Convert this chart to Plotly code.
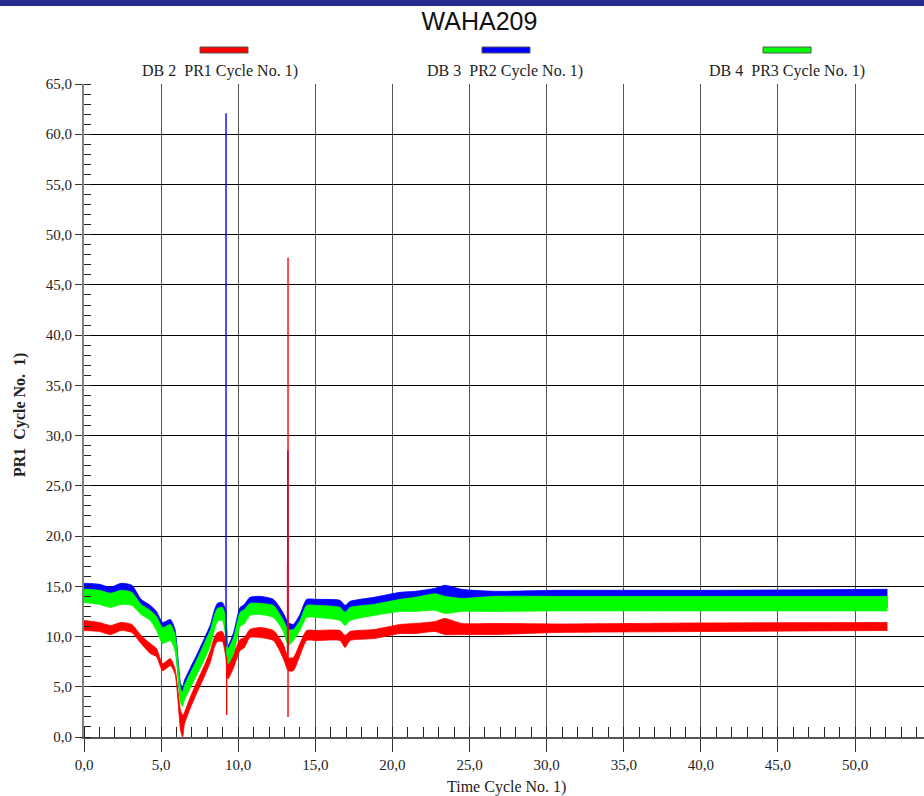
import plotly.graph_objects as go

# ---------------- data ----------------
SERIES_NAMES = ["DB 2\u00a0\u00a0PR1 Cycle No. 1)", "DB 3\u00a0\u00a0PR2 Cycle No. 1)", "DB 4\u00a0\u00a0PR3 Cycle No. 1)"]
TITLE = "WAHA209"
X_TITLE = "Time Cycle No. 1)"
Y_TITLE = "PR1\u00a0\u00a0Cycle No.\u00a0\u00a01)"

# time points at which the envelopes of the noisy bands were read
TIME = [0, 1.0, 1.73, 2.4, 3.1, 3.7, 4.3, 4.7, 5.1, 5.6, 5.9, 6.27, 6.4, 6.5, 6.9, 7.35, 7.8, 8.2, 8.45, 8.65, 8.97,
        9.19, 9.34, 9.7, 10.12, 10.4, 10.76, 11.4, 12.28, 12.9, 13.25, 13.57, 14.0, 14.44, 15.1,
        16.6, 16.93, 17.25, 18.8, 20.5, 21.47, 22.77, 23.4, 24.5, 26.7, 30.6, 40.0, 52.1]

# PR1 (red) band: upper / lower envelope
PR1_HI = [11.6, 11.4, 11.1, 11.4, 11.2, 10.1, 9.3, 8.8, 7.3, 7.8, 6.8, 2.6, 2.2, 2.4, 4.0, 5.6, 7.1, 8.6, 9.9, 10.4, 10.5,
          9.5, 7.3, 8.3, 9.7, 9.9, 10.7, 10.9, 10.6, 9.3, 7.9, 7.9, 9.3, 10.6, 10.6,
          10.6, 10.1, 10.5, 10.7, 11.2, 11.3, 11.5, 11.8, 11.3, 11.3, 11.25, 11.35, 11.4]
PR1_LO = [10.6, 10.5, 10.2, 10.6, 10.4, 9.3, 8.3, 8.0, 6.6, 7.1, 6.3, 0.6, 0.0, 1.2, 2.9, 4.5, 6.0, 7.5, 8.9, 9.5, 9.5,
          8.0, 5.8, 6.9, 8.6, 8.9, 9.9, 9.9, 9.6, 7.9, 6.6, 6.6, 8.1, 9.6, 9.6,
          9.6, 8.9, 9.6, 9.8, 10.3, 10.3, 10.5, 10.2, 10.2, 10.2, 10.4, 10.5, 10.6]

# PR2 (blue) band: upper / lower envelope
PR2_HI = [15.3, 15.2, 14.9, 15.3, 15.1, 13.7, 13.1, 12.5, 11.4, 11.7, 10.7, 5.3, 5.0, 5.6, 6.9, 8.3, 9.8, 11.2, 12.6, 13.3, 13.4,
          12.6, 9.1, 10.4, 12.9, 13.2, 13.9, 14.0, 13.7, 12.4, 11.4, 11.2, 12.2, 13.7, 13.7,
          13.6, 13.1, 13.5, 13.9, 14.4, 14.5, 14.8, 15.1, 14.7, 14.5, 14.6, 14.6, 14.7]
PR2_LO = [13.8, 13.6, 13.3, 13.6, 13.5, 12.6, 12.0, 11.0, 9.7, 10.0, 9.0, 3.8, 3.4, 4.0, 5.3, 6.7, 8.1, 9.5, 11.0, 12.0, 12.0,
          10.4, 7.7, 8.7, 11.4, 11.7, 12.5, 12.6, 12.3, 11.0, 9.5, 10.0, 11.0, 12.3, 12.3,
          12.0, 11.5, 12.0, 12.5, 12.9, 12.9, 13.0, 12.7, 12.9, 12.9, 12.9, 12.9, 12.9]

# PR3 (green) band: upper / lower envelope
PR3_HI = [14.7, 14.6, 14.3, 14.6, 14.4, 13.2, 12.6, 12.0, 10.9, 11.2, 10.2, 4.8, 4.5, 5.1, 6.4, 7.8, 9.3, 10.7, 12.1, 12.8, 12.9,
          12.0, 8.8, 9.9, 12.4, 12.7, 13.3, 13.3, 13.1, 11.7, 10.7, 10.7, 11.6, 13.1, 13.1,
          12.9, 12.4, 12.9, 13.2, 13.7, 13.9, 14.25, 14.0, 13.8, 14.0, 14.0, 14.0, 14.0]
PR3_LO = [13.4, 13.2, 12.9, 13.2, 13.1, 12.2, 11.6, 10.6, 9.3, 9.6, 8.6, 3.4, 3.0, 3.6, 4.9, 6.3, 7.7, 9.1, 10.6, 11.5, 11.6,
          10.0, 7.3, 8.3, 11.0, 11.3, 12.1, 12.2, 11.9, 10.6, 9.1, 9.6, 10.6, 11.9, 11.9,
          11.6, 11.1, 11.6, 12.1, 12.5, 12.5, 12.6, 12.3, 12.5, 12.5, 12.55, 12.55, 12.55]

# narrow spikes: (time, low value, high value)
PR1_SPIKES = [(9.25, 2.2, 8.0), (13.23, 2.0, 47.7), (13.2, 7.0, 17.3)]
PR2_SPIKES = [(9.21, 9.0, 62.1), (13.22, 8.6, 28.5)]

COLORS = ["#ff0000", "#0000ff", "#00ff00"]

# ---------------- figure ----------------
W, H = 924, 796
ML, MR, MT, MB = 84, 0, 84, 59
PW, PH = W - ML - MR, H - MT - MB


def px_x(px):
    return (px - ML) / PW


def px_y(py):
    return (H - MB - py) / PH


fig = go.Figure()

bands = [(PR1_LO, PR1_HI, COLORS[0]), (PR2_LO, PR2_HI, COLORS[1]), (PR3_LO, PR3_HI, COLORS[2])]
for lo, hi, col in bands:
    fig.add_trace(go.Scatter(x=TIME, y=lo, mode="lines", line=dict(color=col, width=0.8, shape="spline", smoothing=0.6),
                             hoverinfo="skip"))
    fig.add_trace(go.Scatter(x=TIME, y=hi, mode="lines", line=dict(color=col, width=0.8, shape="spline", smoothing=0.6),
                             fill="tonexty", fillcolor=col, hoverinfo="skip"))

for spikes, col in [(PR2_SPIKES, COLORS[1]), (PR1_SPIKES, COLORS[0])]:
    for t, lo, hi in spikes:
        fig.add_trace(go.Scatter(x=[t, t], y=[lo, hi], mode="lines",
                                 line=dict(color=col, width=1.4), hoverinfo="skip"))

tick_font = dict(family="Liberation Serif, Times New Roman, serif", size=15, color="#222")

fig.update_xaxes(range=[0, 54.47], dtick=5, tick0=0, tickformat=".1f",
                 showgrid=True, gridcolor="#555", gridwidth=1.4,
                 showline=True, linecolor="#555", linewidth=1.5,
                 ticks="outside", ticklen=13, tickcolor="#333", tickwidth=1,
                 tickfont=tick_font, zeroline=False,
                 minor=dict(dtick=1, tick0=0, ticks="inside", ticklen=10, tickcolor="#222",
                            tickwidth=1, showgrid=False))
fig.update_yaxes(range=[0, 65], dtick=5, tick0=0, tickformat=".1f",
                 showgrid=True, gridcolor="#000", gridwidth=1,
                 showline=True, linecolor="#808080", linewidth=2,
                 ticks="outside", ticklen=7, tickcolor="#333", tickwidth=1,
                 tickfont=tick_font, zeroline=False,
                 minor=dict(dtick=1, tick0=0, ticks="inside", ticklen=7, tickcolor="#222",
                            tickwidth=1, showgrid=False))

shapes = [dict(type="rect", xref="paper", yref="paper", x0=px_x(0), x1=px_x(W),
               y0=px_y(6), y1=px_y(0), fillcolor="#272a8f", line=dict(width=0), layer="above")]
annotations = []
bar_centers = [224, 506, 787]
text_centers = [220, 505, 787]
for name, col, bc, tc in zip(SERIES_NAMES, COLORS, bar_centers, text_centers):
    shapes.append(dict(type="rect", xref="paper", yref="paper",
                       x0=px_x(bc - 24), x1=px_x(bc + 24), y0=px_y(53), y1=px_y(47),
                       fillcolor=col, line=dict(color="#555", width=1), layer="above"))
    annotations.append(dict(text=name, xref="paper", yref="paper", x=px_x(tc), y=px_y(71),
                            xanchor="center", yanchor="middle", showarrow=False,
                            font=dict(family="Liberation Serif, Times New Roman, serif",
                                      size=16, color="#222")))

annotations.append(dict(text=X_TITLE, xref="paper", yref="paper", x=px_x(506), y=px_y(787),
                        xanchor="center", yanchor="middle", showarrow=False,
                        font=dict(family="Liberation Serif, Times New Roman, serif",
                                  size=16, color="#222")))
annotations.append(dict(text="<b>" + Y_TITLE + "</b>", xref="paper", yref="paper",
                        x=px_x(20), y=px_y(415), xanchor="center", yanchor="middle",
                        textangle=-90, showarrow=False,
                        font=dict(family="Liberation Serif, Times New Roman, serif",
                                  size=16, color="#222")))

fig.update_layout(
    width=W, height=H,
    margin=dict(l=ML, r=MR, t=MT, b=MB),
    paper_bgcolor="white", plot_bgcolor="white",
    separators=",.",
    showlegend=False,
    title=dict(text=TITLE, x=479.5 / W, xref="container", xanchor="center",
               y=1 - 21 / H, yref="container", yanchor="middle",
               font=dict(family="Liberation Sans, Arial, sans-serif", size=25, color="#111")),
    shapes=shapes,
    annotations=annotations,
)

fig.write_html("out.html")
